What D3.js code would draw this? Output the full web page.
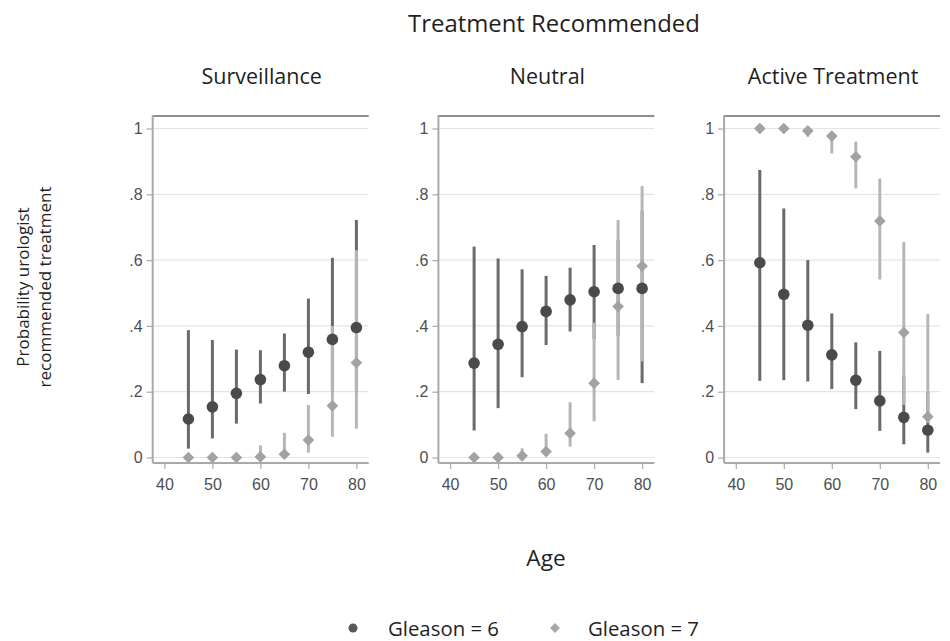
<!DOCTYPE html>
<html>
<head>
<meta charset="utf-8">
<script src="https://cdn.jsdelivr.net/npm/d3@7/dist/d3.min.js"></script>
<style>
  html, body { margin: 0; padding: 0; background: #fff; }
  svg { display: block; }
</style>
</head>
<body>
<svg id="chart" width="950" height="641"></svg>
<script>
// ---------------- DATA ----------------
const ages = [45, 50, 55, 60, 65, 70, 75, 80];
const panelNames = ["Surveillance", "Neutral", "Active Treatment"];
const seriesNames = ["Gleason = 6", "Gleason = 7"];
const xTickValues = [40, 50, 60, 70, 80];
const yTickValues = [0, 0.2, 0.4, 0.6, 0.8, 1];
const yTickLabels = ["0", ".2", ".4", ".6", ".8", "1"];

// Surveillance
const survG6   = [0.117, 0.154, 0.195, 0.237, 0.279, 0.320, 0.359, 0.395];
const survG6Lo = [0.027, 0.058, 0.103, 0.164, 0.200, 0.193, 0.200, 0.200];
const survG6Hi = [0.387, 0.357, 0.328, 0.326, 0.377, 0.483, 0.607, 0.722];
const survG7   = [0.000, 0.000, 0.000, 0.002, 0.010, 0.053, 0.157, 0.288];
const survG7Lo = [0.000, 0.000, 0.000, 0.000, 0.000, 0.015, 0.063, 0.088];
const survG7Hi = [0.004, 0.005, 0.008, 0.037, 0.075, 0.160, 0.400, 0.630];

// Neutral
const neutG6   = [0.287, 0.344, 0.398, 0.444, 0.479, 0.504, 0.514, 0.514];
const neutG6Lo = [0.082, 0.150, 0.244, 0.342, 0.383, 0.360, 0.370, 0.226];
const neutG6Hi = [0.641, 0.605, 0.572, 0.552, 0.577, 0.646, 0.660, 0.750];
const neutG7   = [0.000, 0.000, 0.005, 0.018, 0.074, 0.226, 0.459, 0.582];
const neutG7Lo = [0.000, 0.000, 0.000, 0.005, 0.033, 0.110, 0.236, 0.292];
const neutG7Hi = [0.005, 0.010, 0.028, 0.072, 0.168, 0.410, 0.722, 0.825];

// Active Treatment
const actG6   = [0.592, 0.496, 0.402, 0.312, 0.235, 0.172, 0.122, 0.083];
const actG6Lo = [0.233, 0.235, 0.231, 0.208, 0.147, 0.081, 0.040, 0.015];
const actG6Hi = [0.874, 0.757, 0.600, 0.438, 0.350, 0.324, 0.250, 0.200];
const actG7   = [1.000, 1.000, 0.993, 0.977, 0.914, 0.719, 0.380, 0.124];
const actG7Lo = [0.995, 0.995, 0.975, 0.924, 0.818, 0.541, 0.160, 0.105];
const actG7Hi = [1.000, 1.000, 1.000, 0.990, 0.960, 0.848, 0.655, 0.436];

const panelSeries = [
  { g6: survG6, g6Lo: survG6Lo, g6Hi: survG6Hi, g7: survG7, g7Lo: survG7Lo, g7Hi: survG7Hi },
  { g6: neutG6, g6Lo: neutG6Lo, g6Hi: neutG6Hi, g7: neutG7, g7Lo: neutG7Lo, g7Hi: neutG7Hi },
  { g6: actG6,  g6Lo: actG6Lo,  g6Hi: actG6Hi,  g7: actG7,  g7Lo: actG7Lo,  g7Hi: actG7Hi }
];

// ---------------- LAYOUT ----------------
const svg = d3.select("#chart");
const titleFont = "'Open Sans', Lato, 'DejaVu Sans', sans-serif";
const tickFont = "'Liberation Sans', Arial, sans-serif";

const panelLeft0 = 152.7, panelStep = 285.7, panelW = 216;
const yBottom = 457.5, yTop = 128.5;   // y(0), y(1)
const frameTop = 116, axisY = 463;
const col = { g6: "#4a4a4a", g6Line: "#6a6a6a", g7: "#a2a2a2", g7Line: "#b6b6b6",
              grid: "#e4e4e4", axis: "#a9a9a9", frame: "#8e8e8e", tick: "#4f4f4f", text: "#1f1f1f" };

function fitText(sel, targetWidth, startSize) {
  sel.attr("font-size", startSize);
  const w = sel.node().getComputedTextLength();
  const size = startSize * targetWidth / w;
  sel.attr("font-size", size);
  return size;
}

// Main title
const title = svg.append("text")
  .attr("x", 554).attr("y", 31.5).attr("text-anchor", "middle")
  .attr("font-family", titleFont).attr("fill", col.text)
  .text("Treatment Recommended");
const headSize = fitText(title, 292, 24);

const y = d3.scaleLinear().domain([0, 1]).range([yBottom, yTop]);

panelNames.forEach((name, i) => {
  const left = panelLeft0 + i * panelStep;
  const x = d3.scaleLinear().domain([40, 80]).range([left + 11.7, left + 203.7]);
  const g = svg.append("g");
  const s = panelSeries[i];

  // subtitle
  g.append("text")
    .attr("x", left + panelW / 2 + 1).attr("y", 84).attr("text-anchor", "middle")
    .attr("font-family", titleFont).attr("font-size", headSize * 0.9).attr("fill", col.text)
    .text(name);

  // gridlines
  g.selectAll("line.grid").data(yTickValues).join("line")
    .attr("class", "grid")
    .attr("x1", left).attr("x2", left + panelW)
    .attr("y1", d => y(d)).attr("y2", d => y(d))
    .attr("stroke", col.grid).attr("stroke-width", 1.2);

  // frame: top line, left axis, bottom axis
  g.append("line").attr("x1", left).attr("x2", left + panelW)
    .attr("y1", frameTop).attr("y2", frameTop)
    .attr("stroke", col.frame).attr("stroke-width", 2);
  g.append("line").attr("x1", left).attr("x2", left)
    .attr("y1", frameTop - 1).attr("y2", axisY)
    .attr("stroke", col.axis).attr("stroke-width", 2);
  g.append("line").attr("x1", left).attr("x2", left + panelW)
    .attr("y1", axisY).attr("y2", axisY)
    .attr("stroke", col.axis).attr("stroke-width", 2);

  // y axis
  const yAxis = d3.axisLeft(y).tickValues(yTickValues)
    .tickFormat((d, k) => yTickLabels[k]).tickSize(6).tickPadding(4).tickSizeOuter(0);
  const ya = g.append("g").attr("transform", `translate(${left},0)`).call(yAxis);
  ya.select(".domain").remove();
  ya.selectAll("line").attr("stroke", col.axis).attr("stroke-width", 1.2);
  ya.selectAll("text").attr("font-family", tickFont).attr("font-size", 16).attr("fill", col.tick);

  // x axis
  const xAxis = d3.axisBottom(x).tickValues(xTickValues).tickFormat(d3.format("d"))
    .tickSize(6).tickPadding(10).tickSizeOuter(0);
  const xa = g.append("g").attr("transform", `translate(0,${axisY})`).call(xAxis);
  xa.select(".domain").remove();
  xa.selectAll("line").attr("stroke", col.axis).attr("stroke-width", 1.2);
  xa.selectAll("text").attr("font-family", tickFont).attr("font-size", 16).attr("fill", col.tick);

  const rows = ages.map((a, k) => ({ age: a, g6: s.g6[k], g6Lo: s.g6Lo[k], g6Hi: s.g6Hi[k],
                                     g7: s.g7[k], g7Lo: s.g7Lo[k], g7Hi: s.g7Hi[k] }));

  // CI lines Gleason 6
  g.selectAll("line.ci6").data(rows).join("line").attr("class", "ci6")
    .attr("x1", d => x(d.age)).attr("x2", d => x(d.age))
    .attr("y1", d => y(d.g6Lo)).attr("y2", d => y(d.g6Hi))
    .attr("stroke", col.g6Line).attr("stroke-width", 3);
  // CI lines Gleason 7
  g.selectAll("line.ci7").data(rows).join("line").attr("class", "ci7")
    .attr("x1", d => x(d.age)).attr("x2", d => x(d.age))
    .attr("y1", d => y(d.g7Lo)).attr("y2", d => y(d.g7Hi))
    .attr("stroke", col.g7Line).attr("stroke-width", 3);
  // points Gleason 6
  g.selectAll("circle.p6").data(rows).join("circle").attr("class", "p6")
    .attr("cx", d => x(d.age)).attr("cy", d => y(d.g6)).attr("r", 5.8)
    .attr("fill", col.g6);
  // points Gleason 7 (diamonds)
  const diamond = d3.symbol().type(d3.symbolSquare).size(68);
  g.selectAll("path.p7").data(rows).join("path").attr("class", "p7")
    .attr("d", diamond)
    .attr("transform", d => `translate(${x(d.age)},${y(d.g7)}) rotate(45)`)
    .attr("fill", col.g7);
});

// Y axis title (two lines)
const yTitle = svg.append("g").attr("transform", "translate(0,287) rotate(-90)");
yTitle.append("text").attr("x", 0).attr("y", 29).attr("text-anchor", "middle")
  .attr("font-family", titleFont).attr("font-size", 17).attr("fill", col.text)
  .text("Probability urologist");
yTitle.append("text").attr("x", 0).attr("y", 51).attr("text-anchor", "middle")
  .attr("font-family", titleFont).attr("font-size", 17).attr("fill", col.text)
  .text("recommended treatment");

// X axis title
svg.append("text").attr("x", 546).attr("y", 566).attr("text-anchor", "middle")
  .attr("font-family", titleFont).attr("font-size", headSize * 0.95).attr("fill", col.text)
  .text("Age");

// Legend
const legend = svg.append("g");
legend.append("circle").attr("cx", 353).attr("cy", 628).attr("r", 4.5).attr("fill", "#5a5a5a");
const l1 = legend.append("text").attr("x", 388).attr("y", 636)
  .attr("font-family", titleFont).attr("fill", col.text).text(seriesNames[0]);
const legSize = fitText(l1, 111, 20);
legend.append("path").attr("d", d3.symbol().type(d3.symbolSquare).size(50))
  .attr("transform", "translate(555,628) rotate(45)").attr("fill", "#a8a8a8");
legend.append("text").attr("x", 588).attr("y", 636)
  .attr("font-family", titleFont).attr("font-size", legSize).attr("fill", col.text)
  .text(seriesNames[1]);
</script>
</body>
</html>
